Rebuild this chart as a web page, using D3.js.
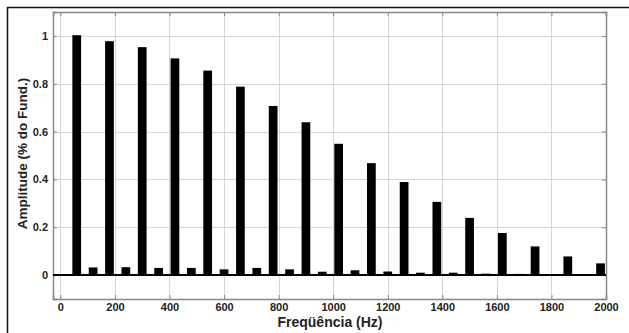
<!DOCTYPE html>
<html>
<head>
<meta charset="utf-8">
<script src="https://cdn.jsdelivr.net/npm/d3@7"></script>
<style>
  body { margin: 0; background: #fff; }
  svg text { font-family: "Liberation Sans", Arial, sans-serif; font-weight: bold; fill: #222; }
</style>
</head>
<body>
<svg id="chart" width="629" height="333"></svg>
<script>
// odd harmonics of 60 Hz fundamental
var oddFreqs = [60, 180, 300, 420, 540, 660, 780, 900, 1020, 1140, 1260, 1380, 1500, 1620, 1740, 1860, 1980];
var oddAmps = [1.003, 0.978, 0.953, 0.906, 0.855, 0.788, 0.707, 0.639, 0.549, 0.468, 0.389, 0.306, 0.239, 0.176, 0.120, 0.078, 0.049];
// even harmonics (small)
var evenFreqs = [120, 240, 360, 480, 600, 720, 840, 960, 1080, 1200, 1320, 1440, 1560, 1680, 1800, 1920];
var evenAmps = [0.032, 0.033, 0.030, 0.030, 0.024, 0.030, 0.024, 0.014, 0.020, 0.015, 0.010, 0.010, 0.006, 0.005, 0.002, 0.003];
var xTicks = [0, 200, 400, 600, 800, 1000, 1200, 1400, 1600, 1800, 2000];
var yTicks = [0, 0.2, 0.4, 0.6, 0.8, 1];
var barHz = 32;

var svg = d3.select("#chart");
var pLeft = 53, pRight = 606, pTop = 12, pBottom = 299;

var x = d3.scaleLinear().domain([-27, 2000]).range([pLeft, pRight]);
var y = d3.scaleLinear().domain([-0.1, 1.1]).range([pBottom, pTop]);

// outer frame (only top and left visible)
svg.append("line").attr("x1", 7).attr("x2", 629).attr("y1", 7.5).attr("y2", 7.5)
	.attr("stroke", "#111").attr("stroke-width", 1.5);
svg.append("line").attr("x1", 7.5).attr("x2", 7.5).attr("y1", 7).attr("y2", 333)
	.attr("stroke", "#111").attr("stroke-width", 1.5);

// grid
svg.append("g").selectAll("line").data(xTicks).join("line")
	.attr("x1", d => Math.round(x(d)) + 0.5).attr("x2", d => Math.round(x(d)) + 0.5)
	.attr("y1", pTop).attr("y2", pBottom)
	.attr("stroke", "#d6d6d6").attr("stroke-width", 1);
svg.append("g").selectAll("line").data(yTicks).join("line")
	.attr("x1", pLeft).attr("x2", pRight)
	.attr("y1", d => Math.round(y(d)) + 0.5).attr("y2", d => Math.round(y(d)) + 0.5)
	.attr("stroke", "#d6d6d6").attr("stroke-width", 1);

// axes
var xAxis = svg.append("g").attr("transform", "translate(0," + pBottom + ")")
	.call(d3.axisBottom(x).tickValues(xTicks).tickSize(-4).tickPadding(4).tickFormat(d3.format("d")));
var xTop = svg.append("g").attr("transform", "translate(0," + pTop + ")")
	.call(d3.axisTop(x).tickValues(xTicks).tickSize(-4).tickFormat(""));
var yAxis = svg.append("g").attr("transform", "translate(" + pLeft + ",0)")
	.call(d3.axisLeft(y).tickValues(yTicks).tickSize(-4).tickPadding(5).tickFormat(d => d === 0 || d === 1 ? d : d.toFixed(1)));
var yRight = svg.append("g").attr("transform", "translate(" + pRight + ",0)")
	.call(d3.axisRight(y).tickValues(yTicks).tickSize(-4).tickFormat(""));

[xAxis, xTop, yAxis, yRight].forEach(function (g) {
	g.select(".domain").attr("stroke", "#888").attr("stroke-width", 1.5);
	g.selectAll(".tick line").attr("stroke", "#888");
	g.selectAll("text").attr("font-size", 11).attr("fill", "#222");
});

// bars
svg.append("g").selectAll("rect.odd").data(oddFreqs).join("rect")
	.attr("x", d => x(d - barHz / 2))
	.attr("width", x(barHz) - x(0))
	.attr("y", (d, i) => y(oddAmps[i]))
	.attr("height", (d, i) => y(0) - y(oddAmps[i]))
	.attr("fill", "#000");
svg.append("g").selectAll("rect.even").data(evenFreqs).join("rect")
	.attr("x", d => x(d - barHz / 2))
	.attr("width", x(barHz) - x(0))
	.attr("y", (d, i) => y(evenAmps[i]))
	.attr("height", (d, i) => y(0) - y(evenAmps[i]))
	.attr("fill", "#000");

// baseline
svg.append("line")
	.attr("x1", pLeft).attr("x2", pRight)
	.attr("y1", y(0)).attr("y2", y(0))
	.attr("stroke", "#000").attr("stroke-width", 2);

// titles
svg.append("text")
	.attr("x", 330).attr("y", 326.5)
	.attr("text-anchor", "middle").attr("font-size", 14)
	.text("Freqüência (Hz)");
svg.append("text")
	.attr("transform", "translate(27," + ((pTop + pBottom) / 2 - 2) + ") rotate(-90)")
	.attr("text-anchor", "middle").attr("font-size", 13.5)
	.text("Amplitude (% do Fund.)");
</script>
</body>
</html>
